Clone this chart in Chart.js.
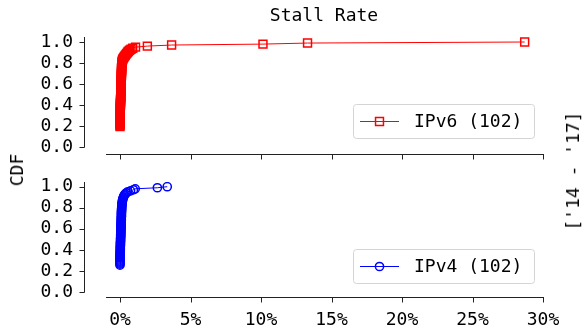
<!DOCTYPE html>
<html>
<head>
<meta charset="utf-8">
<script src="https://cdn.jsdelivr.net/npm/chart.js"></script>
<style>
  body { margin:0; background:#fff; }
  #wrap { position:relative; width:584px; height:331px; overflow:hidden; font-family:'DejaVu Sans Mono', monospace; color:#000; }
  #wrap canvas { position:absolute; left:0; }
  .lbl { position:absolute; font-size:18px; white-space:nowrap; line-height:18px; }
</style>
</head>
<body>
<div id="wrap">
  <canvas id="top" width="584" height="165" style="top:0"></canvas>
  <canvas id="bot" width="584" height="166" style="top:165px"></canvas>
  <div class="lbl" id="title" style="left:324px; top:6px; transform:translateX(-50%);">Stall Rate</div>
  <div class="lbl" style="left:17px; top:170px; transform:translate(-50%,-50%) rotate(-90deg);">CDF</div>
  <div class="lbl" style="left:573px; top:171px; transform:translate(-50%,-50%) rotate(-90deg);">['14 - '17]</div>
</div>
<script>
// stall rate in %, CDF
const v6Label = "IPv6 (102)";
const v6Rate = [
  0.00,0.00,0.00,0.00,0.00,0.00,0.00,0.00,0.00,0.00,0.00,
  0.01,0.01,0.01,0.01,0.02,0.02,0.02,0.02,0.02,0.03,
  0.03,0.03,0.03,0.04,0.04,0.04,0.04,0.05,0.05,0.05,0.05,0.05,0.06,0.06,0.06,
  0.06,0.07,0.07,0.07,0.07,0.08,0.08,0.08,0.08,0.09,0.09,0.09,0.09,0.10,0.10,
  0.10,0.10,0.11,0.11,0.11,0.11,0.11,0.12,0.12,
  0.12,0.13,0.14,0.15,0.17,0.19,0.22,0.27,0.32,0.37,0.42,0.48,0.54,0.60,0.68,0.78,0.90,1.10,
  1.94,3.66,10.14,13.3,28.7
];
const v6Cdf = [
  0.196,0.206,0.216,0.225,0.235,0.245,0.255,0.265,0.275,0.284,0.294,
  0.304,0.314,0.324,0.333,0.343,0.353,0.363,0.373,0.382,0.392,
  0.402,0.412,0.422,0.431,0.441,0.451,0.461,0.471,0.480,0.490,0.500,0.510,0.520,0.529,0.539,
  0.549,0.559,0.569,0.578,0.588,0.598,0.608,0.618,0.627,0.637,0.647,0.657,0.667,0.676,0.686,
  0.696,0.706,0.716,0.725,0.735,0.745,0.755,0.765,0.775,
  0.784,0.794,0.804,0.814,0.824,0.833,0.843,0.853,0.863,0.873,0.882,0.892,0.902,0.912,0.922,0.931,0.941,0.951,
  0.961,0.971,0.980,0.990,1.000
];

const v4Label = "IPv4 (102)";
const v4Rate = [
  0.00,0.00,0.00,0.00,0.00,0.00,0.00,0.00,0.00,0.00,
  0.01,0.01,0.01,0.01,0.02,0.02,0.02,0.02,0.02,0.03,0.03,0.03,0.03,0.04,0.04,
  0.04,0.04,0.05,0.05,0.05,0.05,0.06,0.06,0.06,0.06,0.07,0.07,0.07,0.07,0.08,
  0.08,0.08,0.08,0.09,0.09,0.09,0.09,0.10,0.10,0.10,0.10,0.10,0.11,0.11,0.11,
  0.12,0.12,0.13,0.13,0.14,0.15,0.16,0.17,0.18,0.20,0.22,0.25,0.28,0.32,0.37,0.45,0.55,0.75,0.95,1.08,
  2.65,3.35
];
const v4Cdf = [
  0.255,0.265,0.275,0.284,0.294,0.304,0.314,0.324,0.333,0.343,
  0.353,0.363,0.373,0.382,0.392,0.402,0.412,0.422,0.431,0.441,0.451,0.461,0.471,0.480,0.490,
  0.500,0.510,0.520,0.529,0.539,0.549,0.559,0.569,0.578,0.588,0.598,0.608,0.618,0.627,0.637,
  0.647,0.657,0.667,0.676,0.686,0.696,0.706,0.716,0.725,0.735,0.745,0.755,0.765,0.775,0.784,
  0.794,0.804,0.814,0.824,0.833,0.843,0.853,0.863,0.873,0.882,0.892,0.902,0.912,0.922,0.931,0.941,0.951,0.961,0.971,0.980,
  0.990,1.000
];

const xTicks = [0, 5, 10, 15, 20, 25, 30];
const yTicks = [0, 0.2, 0.4, 0.6, 0.8, 1.0];

Chart.defaults.font.family = "'DejaVu Sans Mono'";
Chart.defaults.font.size = 18;
Chart.defaults.color = "#000";

// offset spines (seaborn-ish despine look)
const spines = {
  id: "spines",
  afterDraw(chart){
    const { ctx, chartArea:a, scales:{ x, y } } = chart;
    ctx.save();
    ctx.strokeStyle = "#222"; ctx.lineWidth = 1;
    ctx.beginPath();
    const sx = Math.round(a.left) + 0.5, y0 = Math.round(y.getPixelForValue(0)) + 0.5;
    ctx.moveTo(sx, a.top); ctx.lineTo(sx, y0);
    yTicks.forEach(v => { const py = Math.round(y.getPixelForValue(v)) + 0.5; ctx.moveTo(sx - 5, py); ctx.lineTo(sx, py); });
    const by = Math.round(a.bottom) + 0.5;
    ctx.moveTo(Math.round(x.getPixelForValue(-1)), by); ctx.lineTo(Math.round(x.getPixelForValue(30)) + 1, by);
    xTicks.forEach(v => { const px = Math.round(x.getPixelForValue(v)) + 0.5; ctx.moveTo(px, by); ctx.lineTo(px, by + 5); });
    ctx.stroke();
    ctx.restore();
  }
};

// framed legend in the lower right of the plot area
const boxLegend = {
  id: "boxLegend",
  afterDraw(chart, args, o){
    const { ctx, chartArea:a } = chart;
    const ds = chart.data.datasets[0];
    const w = 181, h = 34;
    const bx = Math.round(a.right - 9 - w), by = Math.round(a.bottom - o.bottom - h);
    ctx.save();
    ctx.beginPath(); ctx.roundRect(bx + 0.5, by + 0.5, w, h, 3);
    ctx.fillStyle = "rgba(255,255,255,0.8)"; ctx.fill();
    ctx.strokeStyle = "#d4d4d4"; ctx.lineWidth = 1; ctx.stroke();
    const cy = by + h / 2 + 0.5;
    ctx.strokeStyle = ds.borderColor; ctx.lineWidth = 1;
    ctx.beginPath(); ctx.moveTo(bx + 7, cy); ctx.lineTo(bx + 46, cy); ctx.stroke();
    ctx.lineWidth = ds.pointBorderWidth;
    ctx.beginPath();
    const mx = bx + 26.5;
    if (ds.pointStyle === "rect") { const s = ds.pointRadius * Math.SQRT1_2; ctx.rect(mx - s, cy - s, 2 * s, 2 * s); }
    else ctx.arc(mx, cy, ds.pointRadius, 0, Math.PI * 2);
    ctx.stroke();
    ctx.fillStyle = "#000"; ctx.font = "18px 'DejaVu Sans Mono'"; ctx.textBaseline = "middle";
    ctx.fillText(ds.label, bx + 61, cy + 1);
    ctx.restore();
  }
};

function makePanel(id, opt){
  return new Chart(document.getElementById(id), {
    type: "line",
    data: {
      datasets: [{
        label: opt.label,
        data: opt.rate.map((r, i) => ({ x: r, y: opt.cdf[i] })),
        borderColor: opt.color, borderWidth: 1,
        pointStyle: opt.marker, pointRadius: opt.radius, pointBorderWidth: 1.5,
        pointBackgroundColor: "rgba(0,0,0,0)", pointBorderColor: opt.color,
        tension: 0, fill: false
      }]
    },
    options: {
      responsive: false, animation: false,
      layout: { padding: { left: 0, right: 41, top: opt.padTop, bottom: 0 } },
      plugins: { legend: { display: false }, tooltip: { enabled: false }, boxLegend: { bottom: opt.legendBottom } },
      scales: {
        x: {
          type: "linear", min: -36 / 14.1, max: 30,
          grid: { display: false, drawTicks: false, tickLength: 0 }, border: { display: false },
          afterBuildTicks: (s) => { s.ticks = xTicks.map(v => ({ value: v })); },
          afterFit: (s) => { s.height = opt.xHeight; s.paddingLeft = 0; s.paddingRight = 0; },
          ticks: { display: opt.showX, autoSkip: false, padding: 13, maxRotation: 0, callback: (v) => v + "%" }
        },
        y: {
          type: "linear", min: opt.yMin, max: opt.yMax,
          grid: { display: false, drawTicks: false, tickLength: 0 }, border: { display: false },
          afterBuildTicks: (s) => { s.ticks = yTicks.map(v => ({ value: v })); },
          afterFit: (s) => { s.width = 84; s.paddingTop = 0; s.paddingBottom = 0; },
          ticks: { autoSkip: false, padding: 11, callback: (v) => Number(v).toFixed(1) }
        }
      }
    },
    plugins: [spines, boxLegend]
  });
}

makePanel("top", { label: v6Label, rate: v6Rate, cdf: v6Cdf, color: "#ff0000", marker: "rect", radius: 5.6,
  padTop: 37, xHeight: 11, showX: false, yMin: -7 / 105, yMax: 1 + 5 / 105, legendBottom: 16 });
makePanel("bot", { label: v4Label, rate: v4Rate, cdf: v4Cdf, color: "#0000ff", marker: "circle", radius: 4.1,
  padTop: 17, xHeight: 34, showX: true, yMin: -5 / 105.3, yMax: 1 + 4.7 / 105.3, legendBottom: 14 });
</script>
</body>
</html>
